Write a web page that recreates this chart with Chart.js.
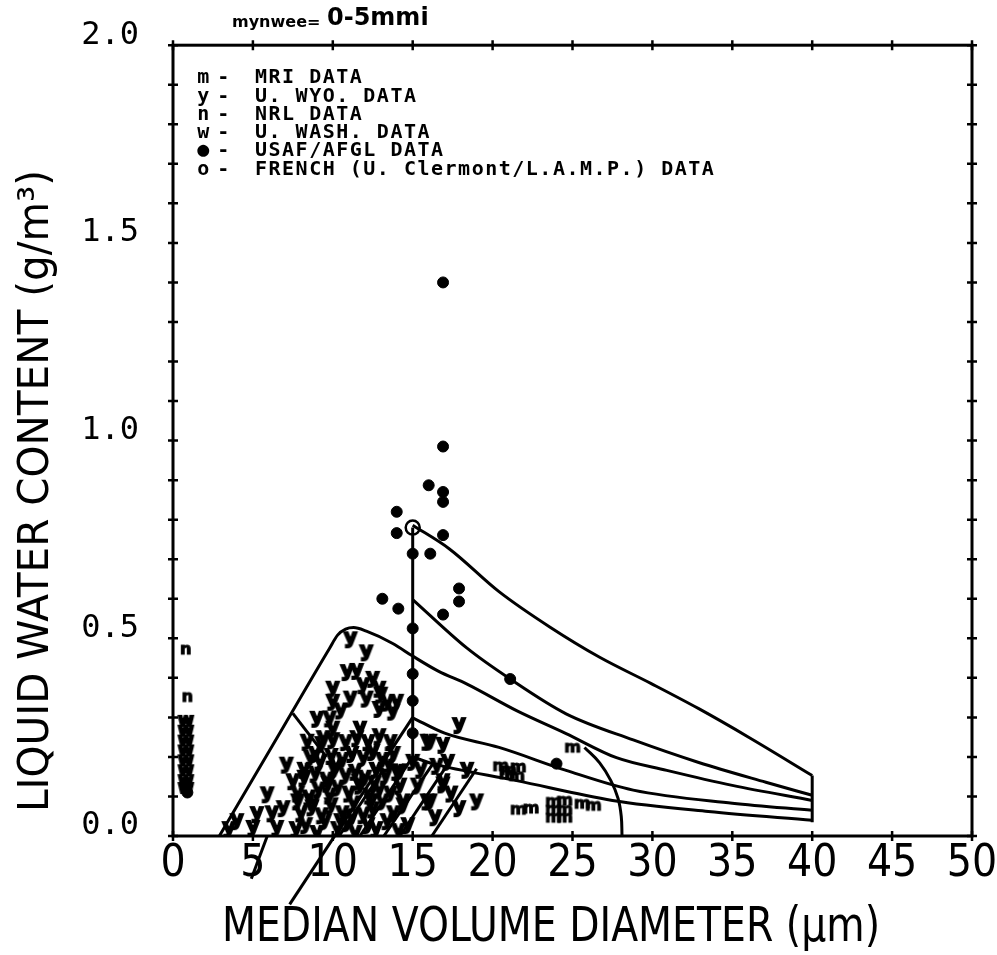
<!DOCTYPE html>
<html>
<head>
<meta charset="utf-8">
<script src="https://cdn.jsdelivr.net/npm/chart.js@4.4.1/dist/chart.umd.min.js"></script>
<style>
html,body{margin:0;padding:0;background:#fff}
</style>
</head>
<body>
<canvas id="chart" width="997" height="955"></canvas>
<script>
// envelope curves, x = MVD (um), y = LWC (g/m3)
let envX=[2.9,6.3,9.8,10.3,10.8,11.3,12.1,13.75,15.0,16.6,18.4,21.5,24.6,27.75,30.9,35.0,40.0]
let envY=[0.0,0.234,0.475,0.508,0.523,0.527,0.518,0.487,0.455,0.417,0.384,0.317,0.259,0.198,0.166,0.128,0.09]
let topX=[15.0,17.3,20.4,23.6,26.7,29.9,32.9,36.1,40.0]
let topY=[0.786,0.726,0.618,0.528,0.452,0.386,0.322,0.248,0.153]
let midX=[15.0,18.4,21.1,24.6,28.8,32.9,37.1,40.0]
let midY=[0.598,0.475,0.397,0.309,0.243,0.186,0.136,0.103]
let lowX=[15.0,17.0,20.4,24.6,28.8,35.0,40.0]
let lowY=[0.299,0.26,0.224,0.166,0.116,0.083,0.065]
let baseX=[15.0,16.25,21.5,27.5,33.5,40.0]
let baseY=[0.2,0.183,0.14,0.09,0.062,0.04]
let stemX=[15,15],stemY=[0.78,0.19]
let edgeX=[40,40],edgeY=[0.153,0.035]
let arcX=[25.75,26.7,27.4,27.85,28.05,28.1]
let arcY=[0.224,0.185,0.14,0.095,0.05,0.0]
let hatchX=[[15.0,7.3],[15.0,11.7],[16.3,13.2],[17.5,14.2],[19.0,16.2],[7.5,9.6],[5.9,4.9],[13.2,10.4]]
let hatchY=[[0.30,-0.173],[0.2,0.0],[0.185,0.0],[0.2,0.0],[0.17,0.0],[0.31,0.2],[0.0,-0.108],[0.17,0.0]]

// data points by source
let mriX=[20.5,21.0,21.6,20.9,21.5,21.6,22.4,23.8,23.8,23.8,24.5,24.5,24.5,25.6,26.3,25.0]
let mriY=[0.175,0.165,0.172,0.155,0.15,0.065,0.068,0.085,0.065,0.045,0.088,0.065,0.045,0.08,0.075,0.222]
let wyoX=[11.1,12.1,10.9,10.0,11.9,12.9,12.1,10.0,11.1,14.0,9.0,12.9,10.0,11.7,13.75,12.5,13.0,11.5,13.4,
7.1,8.4,7.5,5.9,5.25,4.0,5.0,6.5,6.9,3.5,6.2,7.8,8.2,8.9,9.4,9.8,10.5,
7.7,8.3,9.0,9.5,10.3,10.9,11.4,12.2,12.7,13.4,14.1,14.7,
8.0,8.7,9.3,9.9,10.6,11.3,11.9,12.5,13.1,13.8,14.4,
7.8,8.5,9.1,9.8,10.3,11.0,11.7,12.3,12.9,13.6,14.2,
8.2,8.9,9.6,10.1,10.8,11.4,12.0,12.7,13.3,14.0,
8.6,9.2,9.9,10.6,11.2,11.9,12.5,13.1,13.8,
9.3,10.0,10.8,11.5,12.2,12.9,13.6,
8.8,9.7,10.5,11.6,12.4,13.5,10.2,11.2,12.6,
17.9,16.1,16.9,16.9,16.1,17.9,19.0,14.4,15.9,16.9,15.9,15.0,14.2,12.5,15.5,16.5,15.3,17.2,18.4,16.4,17.4]
let wyoY=[0.50,0.467,0.417,0.375,0.384,0.375,0.35,0.342,0.35,0.342,0.299,0.324,0.274,0.274,0.317,0.40,0.36,0.42,0.34,
0.183,0.241,0.141,0.108,0.058,0.04,0.023,0.023,0.073,0.02,0.06,0.09,0.17,0.21,0.25,0.30,0.32,
0.02,0.03,0.01,0.04,0.02,0.035,0.01,0.03,0.02,0.04,0.015,0.03,
0.06,0.075,0.055,0.08,0.06,0.085,0.055,0.07,0.09,0.06,0.08,
0.11,0.1,0.12,0.105,0.125,0.11,0.13,0.105,0.12,0.11,0.13,
0.15,0.16,0.145,0.17,0.155,0.165,0.15,0.17,0.155,0.165,
0.2,0.19,0.205,0.195,0.21,0.2,0.215,0.195,0.21,
0.235,0.245,0.24,0.25,0.24,0.255,0.24,
0.09,0.135,0.04,0.14,0.09,0.185,0.18,0.05,0.135,
0.283,0.241,0.233,0.141,0.09,0.073,0.09,0.09,0.241,0.133,0.09,0.19,0.166,0.216,0.17,0.18,0.13,0.19,0.17,0.05,0.11]
let nrlX=[0.8,0.9]
let nrlY=[0.47,0.35]
let washX=[0.8,0.8,0.8,0.8,0.8,0.8,0.8,0.8]
let washY=[0.29,0.265,0.24,0.215,0.19,0.165,0.14,0.12]
let usafX=[16.9,16.9,16.0,16.9,16.9,14.0,14.0,16.9,16.1,17.9,17.9,16.9,13.1,14.1,15.0,15.0,15.0,15.0,21.1,24.0,15.0,0.9]
let usafY=[1.40,0.985,0.887,0.870,0.845,0.82,0.766,0.761,0.714,0.626,0.593,0.56,0.60,0.575,0.714,0.525,0.41,0.342,0.397,0.183,0.26,0.11]
let frenchX=[15.0]
let frenchY=[0.78]

let legendSymbols=["m","y","n","w","\u25CF","o"]
let legendLabels=["MRI DATA","U. WYO. DATA","NRL DATA","U. WASH. DATA","USAF/AFGL DATA","FRENCH (U. Clermont/L.A.M.P.) DATA"]

function pts(xs,ys){
return xs.map((x,i)=>({x:x,y:ys[i]}))
}
function glyph(ch,size,heavy){
let c=document.createElement("canvas")
c.width=size+6
c.height=size+8
let g=c.getContext("2d")
g.font="bold "+size+"px 'DejaVu Sans'"
g.textAlign="center"
g.textBaseline="middle"
g.fillStyle="#000"
g.strokeStyle="#000"
g.lineWidth=heavy||0.5
g.fillText(ch,c.width/2,c.height/2)
g.strokeText(ch,c.width/2,c.height/2)
return c
}
function curve(xs,ys,mode){
return {data:pts(xs,ys),showLine:true,pointRadius:0,borderColor:"#000",borderWidth:3,
cubicInterpolationMode:mode||"default",tension:mode?0.4:0,clip:false}
}
function marks(xs,ys,style,r){
return {data:pts(xs,ys),showLine:false,pointStyle:style,pointRadius:r||5,
backgroundColor:"#000",borderColor:"#000",borderWidth:1}
}

let datasets=[
curve(envX,envY,"monotone"),
curve(topX,topY,"monotone"),
curve(midX,midY,"monotone"),
curve(lowX,lowY,"monotone"),
curve(baseX,baseY,"monotone"),
curve(stemX,stemY),
curve(edgeX,edgeY),
curve(arcX,arcY,"default")
]
hatchX.forEach((hx,i)=>datasets.push(curve(hx,hatchY[i])))
datasets.push(marks(mriX,mriY,glyph("m",16,1)))
datasets.push(marks(wyoX,wyoY,glyph("y",20,2)))
datasets.push(marks(nrlX,nrlY,glyph("n",16,1)))
datasets.push(marks(washX,washY,glyph("w",17,2)))
datasets.push(marks(usafX,usafY,"circle",5.5))
datasets.push({data:pts(frenchX,frenchY),showLine:false,pointStyle:"circle",pointRadius:7,
backgroundColor:"rgba(0,0,0,0)",borderColor:"#000",borderWidth:2.5})

function fitText(ctx,text,cx,cy,w,font){
ctx.font=font
let m=ctx.measureText(text).width
ctx.save()
ctx.translate(cx,cy)
ctx.scale(w/m,1)
ctx.textAlign="center"
ctx.textBaseline="middle"
ctx.fillText(text,0,0)
ctx.restore()
}

let decor={
id:"decor",
afterDraw(chart){
let ctx=chart.ctx
let a=chart.chartArea
let x=chart.scales.x
let y=chart.scales.y
ctx.save()
ctx.strokeStyle="#000"
ctx.fillStyle="#000"
ctx.lineWidth=3
ctx.strokeRect(a.left,a.top,a.right-a.left,a.bottom-a.top)
ctx.lineWidth=2.5
ctx.beginPath()
x.ticks.forEach(t=>{
let px=x.getPixelForValue(t.value)
ctx.moveTo(px,a.bottom-5);ctx.lineTo(px,a.bottom+5)
ctx.moveTo(px,a.top-5);ctx.lineTo(px,a.top+5)
})
y.ticks.forEach(t=>{
let py=y.getPixelForValue(t.value)
ctx.moveTo(a.left-5,py);ctx.lineTo(a.left+5,py)
ctx.moveTo(a.right-5,py);ctx.lineTo(a.right+5,py)
})
ctx.stroke()
// axis titles
fitText(ctx,"MEDIAN VOLUME DIAMETER (\u03BCm)",551,929,658,"48px 'DejaVu Sans'")
ctx.save()
ctx.translate(37,491)
ctx.rotate(-Math.PI/2)
fitText(ctx,"LIQUID WATER CONTENT (g/m\u00B3)",0,0,642,"42px 'DejaVu Sans'")
ctx.restore()
// top label
ctx.textAlign="left"
ctx.textBaseline="alphabetic"
ctx.font="bold 16px 'DejaVu Sans'"
ctx.fillText("mynwee=",232,27)
ctx.font="bold 24px 'DejaVu Sans'"
ctx.fillText("0-5mmi",327,25)
// legend block
ctx.font="bold 20px 'DejaVu Sans Mono'"
ctx.letterSpacing="1.5px"
ctx.textBaseline="middle"
legendLabels.forEach((lab,i)=>{
let ly=78+18.3*i
ctx.textAlign="center"
ctx.fillText(legendSymbols[i],204,ly)
ctx.fillText("-",224,ly)
ctx.textAlign="left"
ctx.fillText(lab,255,ly)
})
ctx.restore()
}
}

new Chart(document.getElementById("chart"),{
type:"scatter",
data:{datasets:datasets},
options:{
responsive:false,
animation:false,
layout:{padding:{left:0,right:25,top:40,bottom:0}},
plugins:{legend:{display:false},tooltip:{enabled:false}},
scales:{
x:{
type:"linear",min:0,max:50,
afterFit(scale){scale.height=119},
grid:{display:false},border:{display:false},
ticks:{stepSize:5,autoSkip:false,maxRotation:0,padding:-6,color:"#000",
font:{family:"'Liberation Sans Narrow','DejaVu Sans Condensed',sans-serif",size:44}}
},
y:{
type:"linear",min:0,max:2,
afterFit(scale){scale.width=173},
grid:{display:false},border:{display:false},
ticks:{stepSize:0.1,autoSkip:false,padding:26,labelOffset:-10,color:"#000",
font:{family:"'DejaVu Sans Mono',monospace",size:32},
callback(v){
let k=Math.round(v*10)
return k%5===0?(k/10).toFixed(1):""
}}
}
}
},
plugins:[decor]
})
</script>
</body>
</html>
